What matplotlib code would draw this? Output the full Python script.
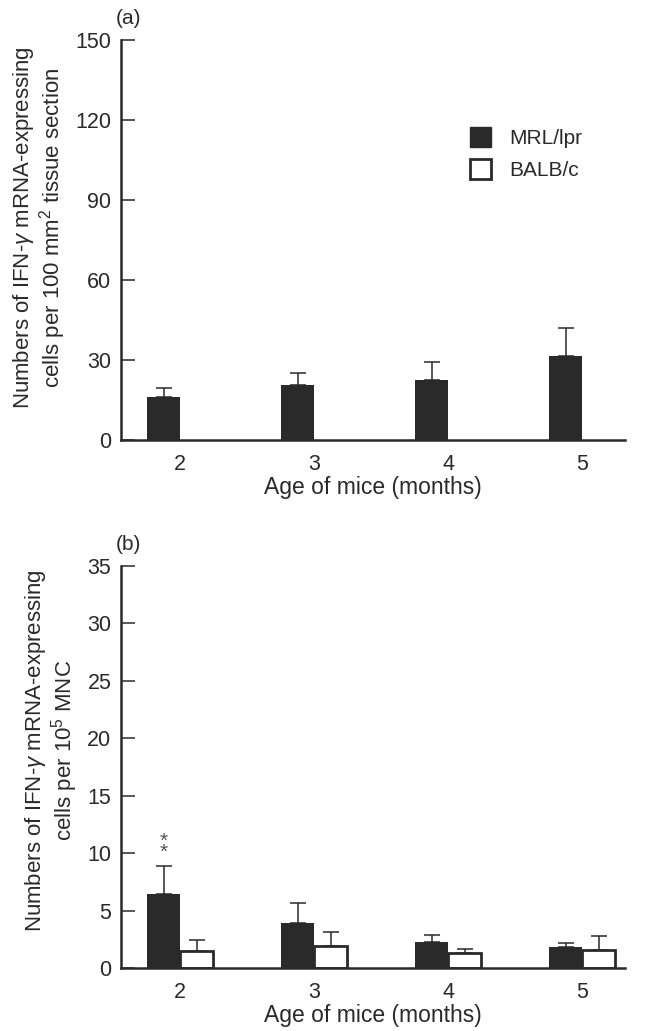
import numpy as np
import matplotlib
matplotlib.use("Agg")
import matplotlib.pyplot as plt
from matplotlib.patches import Patch

months = ["2", "3", "4", "5"]

# (a) cells per 100 mm2 tissue section
tissue_mrl = [16.1, 20.6, 22.5, 31.5]
tissue_mrl_err = [3.3, 4.4, 6.8, 10.4]

# (b) cells per 10^5 MNC
mnc_mrl = [6.4, 3.9, 2.25, 1.8]
mnc_mrl_err = [2.5, 1.8, 0.6, 0.4]
mnc_balb = [1.45, 1.9, 1.3, 1.6]
mnc_balb_err = [0.95, 1.2, 0.35, 1.2]

plt.rcParams['font.family'] = ['Liberation Sans', 'DejaVu Sans']
plt.rcParams['mathtext.fontset'] = 'custom'
plt.rcParams['mathtext.rm'] = 'Liberation Sans'
plt.rcParams['mathtext.it'] = 'Liberation Sans:italic'

DARK = '#2a2a2a'
W = 0.246


def style_axis(ax, ymax, step):
    ax.spines['top'].set_visible(False)
    ax.spines['right'].set_visible(False)
    ax.spines['left'].set_linewidth(1.8)
    ax.spines['bottom'].set_linewidth(1.8)
    ax.spines['left'].set_color(DARK)
    ax.spines['bottom'].set_color(DARK)
    ax.set_xlim(-0.44, 3.321)
    ax.set_ylim(0, ymax)
    ax.set_yticks(np.arange(0, ymax + 0.1, step))
    ax.set_xticks(np.arange(4))
    ax.set_xticklabels(months)
    ax.tick_params(axis='y', direction='in', length=10, width=1.1, pad=7,
                   labelsize=15.5, color=DARK, labelcolor=DARK)
    ax.tick_params(axis='x', length=0, pad=10, labelsize=15.5, labelcolor=DARK)
    ax.set_xlabel('Age of mice (months)', fontsize=16.5, labelpad=1, color=DARK)


def main():
    fig = plt.figure(figsize=(6.58, 10.31), dpi=100)
    ax1 = fig.add_axes([0.184, 0.5732, 0.766, 0.388])
    ax2 = fig.add_axes([0.184, 0.0611, 0.766, 0.39])
    x = np.arange(4)

    # panel a
    ax1.errorbar(x - W / 2, tissue_mrl, yerr=[np.zeros(4), tissue_mrl_err],
                 fmt='none', ecolor=DARK, elinewidth=1.1, capsize=5.5,
                 capthick=1.1, zorder=1)
    ax1.bar(x - W / 2, tissue_mrl, W, color=DARK, zorder=2)
    style_axis(ax1, 150, 30)
    ax1.set_ylabel('Numbers of IFN-$\\gamma$ mRNA-expressing\n'
                   'cells per 100 mm$^2$ tissue section',
                   fontsize=16, labelpad=5, color=DARK, linespacing=1.05)
    ax1.yaxis.label.set_y(0.53)
    ax1.text(-0.01, 1.03, '(a)', transform=ax1.transAxes, fontsize=15,
             ha='left', va='bottom', color=DARK)
    handles = [Patch(facecolor=DARK, edgecolor=DARK, label='MRL/lpr'),
               Patch(facecolor='white', edgecolor=DARK, linewidth=2,
                     label='BALB/c')]
    ax1.legend(handles=handles, loc='upper left',
               bbox_to_anchor=(0.655, 0.83), frameon=False, fontsize=15,
               handlelength=1.0, handleheight=1.1, handletextpad=0.9,
               labelspacing=0.55, labelcolor=DARK)

    # panel b
    ax2.errorbar(x - W / 2, mnc_mrl, yerr=[np.zeros(4), mnc_mrl_err],
                 fmt='none', ecolor=DARK, elinewidth=1.1, capsize=5.5,
                 capthick=1.1, zorder=1)
    ax2.errorbar(x + W / 2, mnc_balb, yerr=[np.zeros(4), mnc_balb_err],
                 fmt='none', ecolor=DARK, elinewidth=1.1, capsize=5.5,
                 capthick=1.1, zorder=1)
    ax2.bar(x - W / 2, mnc_mrl, W, color=DARK, zorder=2)
    ax2.bar(x + W / 2, mnc_balb, W, color='white', edgecolor=DARK,
            linewidth=2, zorder=2)
    style_axis(ax2, 35, 5)
    ax2.set_ylabel('Numbers of IFN-$\\gamma$ mRNA-expressing\n'
                   'cells per 10$^5$ MNC',
                   fontsize=16, labelpad=5, color=DARK, linespacing=1.05)
    ax2.yaxis.label.set_y(0.54)
    ax2.text(-0.01, 1.03, '(b)', transform=ax2.transAxes, fontsize=15,
             ha='left', va='bottom', color=DARK)
    ax2.text(0 - W / 2, mnc_mrl[0] + mnc_mrl_err[0] + 0.3, '*\n*',
             ha='center', va='bottom', fontsize=15, linespacing=0.5,
             color='#555555')

    fig.savefig('out.png', dpi=100)


if __name__ == "__main__":
    main()
